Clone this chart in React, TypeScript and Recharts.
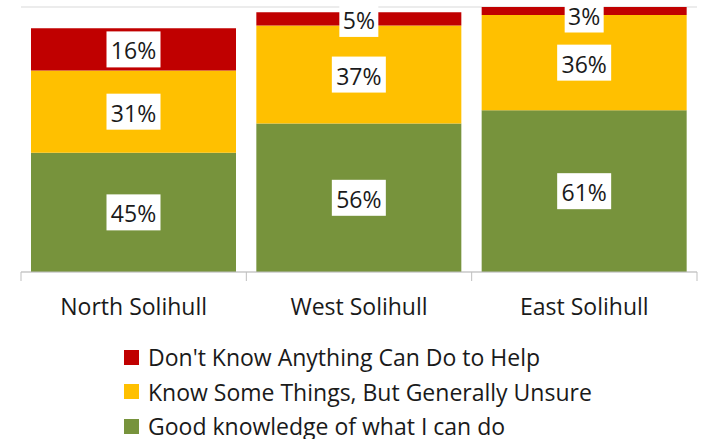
import React from "react";
import { BarChart, Bar, XAxis, YAxis, CartesianGrid, LabelList } from "recharts";

const regions = ["North Solihull", "West Solihull", "East Solihull"];
const goodKnowledge = [45, 56, 61];
const someThings = [31, 37, 36];
const dontKnow = [16, 5, 3];
const yTicks = [0, 10, 20, 30, 40, 50, 60, 70, 80, 90, 100];

const seriesInfo = [
  { key: "dontKnow", name: "Don't Know Anything Can Do to Help", color: "#C00000" },
  { key: "someThings", name: "Know Some Things, But Generally Unsure", color: "#FFC000" },
  { key: "good", name: "Good knowledge of what I can do", color: "#77933C" },
];

const data = regions.map((region, i) => ({
  region,
  good: goodKnowledge[i],
  someThings: someThings[i],
  dontKnow: dontKnow[i],
}));

const W = 702;
const H = 439;
const M = { top: 7, right: 5, left: 21, bottom: 0 };
const AXIS_H = 167;
const FONT = "'Open Sans', sans-serif";
const FS = 23;
const band = (W - M.left - M.right) / regions.length;

function BoxLabel(props: any) {
  const { x, y, width, height, value } = props;
  const text = `${value}%`;
  const bw = text.length * 15 + 9;
  const bh = 36;
  const cx = x + width / 2;
  // keep the box inside the chart like the original does
  const cy = Math.max(y + height / 2, 14.5);
  return (
    <g>
      <rect x={cx - bw / 2} y={cy - bh / 2} width={bw} height={bh} fill="#fff" />
      <text x={cx} y={cy + 1} textAnchor="middle" dominantBaseline="central" fontSize={FS} fontFamily={FONT} fill="#1a1a1a">
        {text}
      </text>
    </g>
  );
}

function RegionTick(props: any) {
  const { x, y, payload, index } = props;
  const left = x - band / 2;
  return (
    <g>
      <line x1={left} y1={y - 8} x2={left} y2={y + 1} stroke="#BFBFBF" />
      {index === regions.length - 1 && <line x1={x + band / 2} y1={y - 8} x2={x + band / 2} y2={y + 1} stroke="#BFBFBF" />}
      <text x={x} y={y + 35} textAnchor="middle" fontSize={FS} fontFamily={FONT} fill="#1a1a1a">
        {payload.value}
      </text>
    </g>
  );
}

export default function App() {
  return (
    <div style={{ position: "fixed", left: 0, top: 0, width: W, height: H, background: "#fff", overflow: "hidden" }}>
      <BarChart width={W} height={H} data={data} margin={M} barCategoryGap={10}>
        <CartesianGrid vertical={false} stroke="#D9D9D9" />
        <YAxis domain={[0, 100]} ticks={yTicks} tick={false} axisLine={false} tickLine={false} width={0} />
        <XAxis
          dataKey="region"
          height={AXIS_H}
          axisLine={{ stroke: "#BFBFBF" }}
          tickLine={false}
          tick={<RegionTick />}
          interval={0}
        />
        <Bar dataKey="good" stackId="a" fill="#77933C" isAnimationActive={false}>
          <LabelList dataKey="good" content={<BoxLabel />} />
        </Bar>
        <Bar dataKey="someThings" stackId="a" fill="#FFC000" isAnimationActive={false}>
          <LabelList dataKey="someThings" content={<BoxLabel />} />
        </Bar>
        <Bar dataKey="dontKnow" stackId="a" fill="#C00000" isAnimationActive={false}>
          <LabelList dataKey="dontKnow" content={<BoxLabel />} />
        </Bar>
      </BarChart>
      <div style={{ position: "absolute", left: 124, top: 340, fontFamily: FONT, fontSize: FS, color: "#1a1a1a", lineHeight: "34.5px" }}>
        {seriesInfo.map((s) => (
          <div key={s.key} style={{ display: "flex", alignItems: "center", height: 34.5, whiteSpace: "nowrap" }}>
            <span style={{ display: "inline-block", width: 15, height: 15, background: s.color, marginRight: 9, flex: "none" }} />
            <span>{s.name}</span>
          </div>
        ))}
      </div>
    </div>
  );
}
